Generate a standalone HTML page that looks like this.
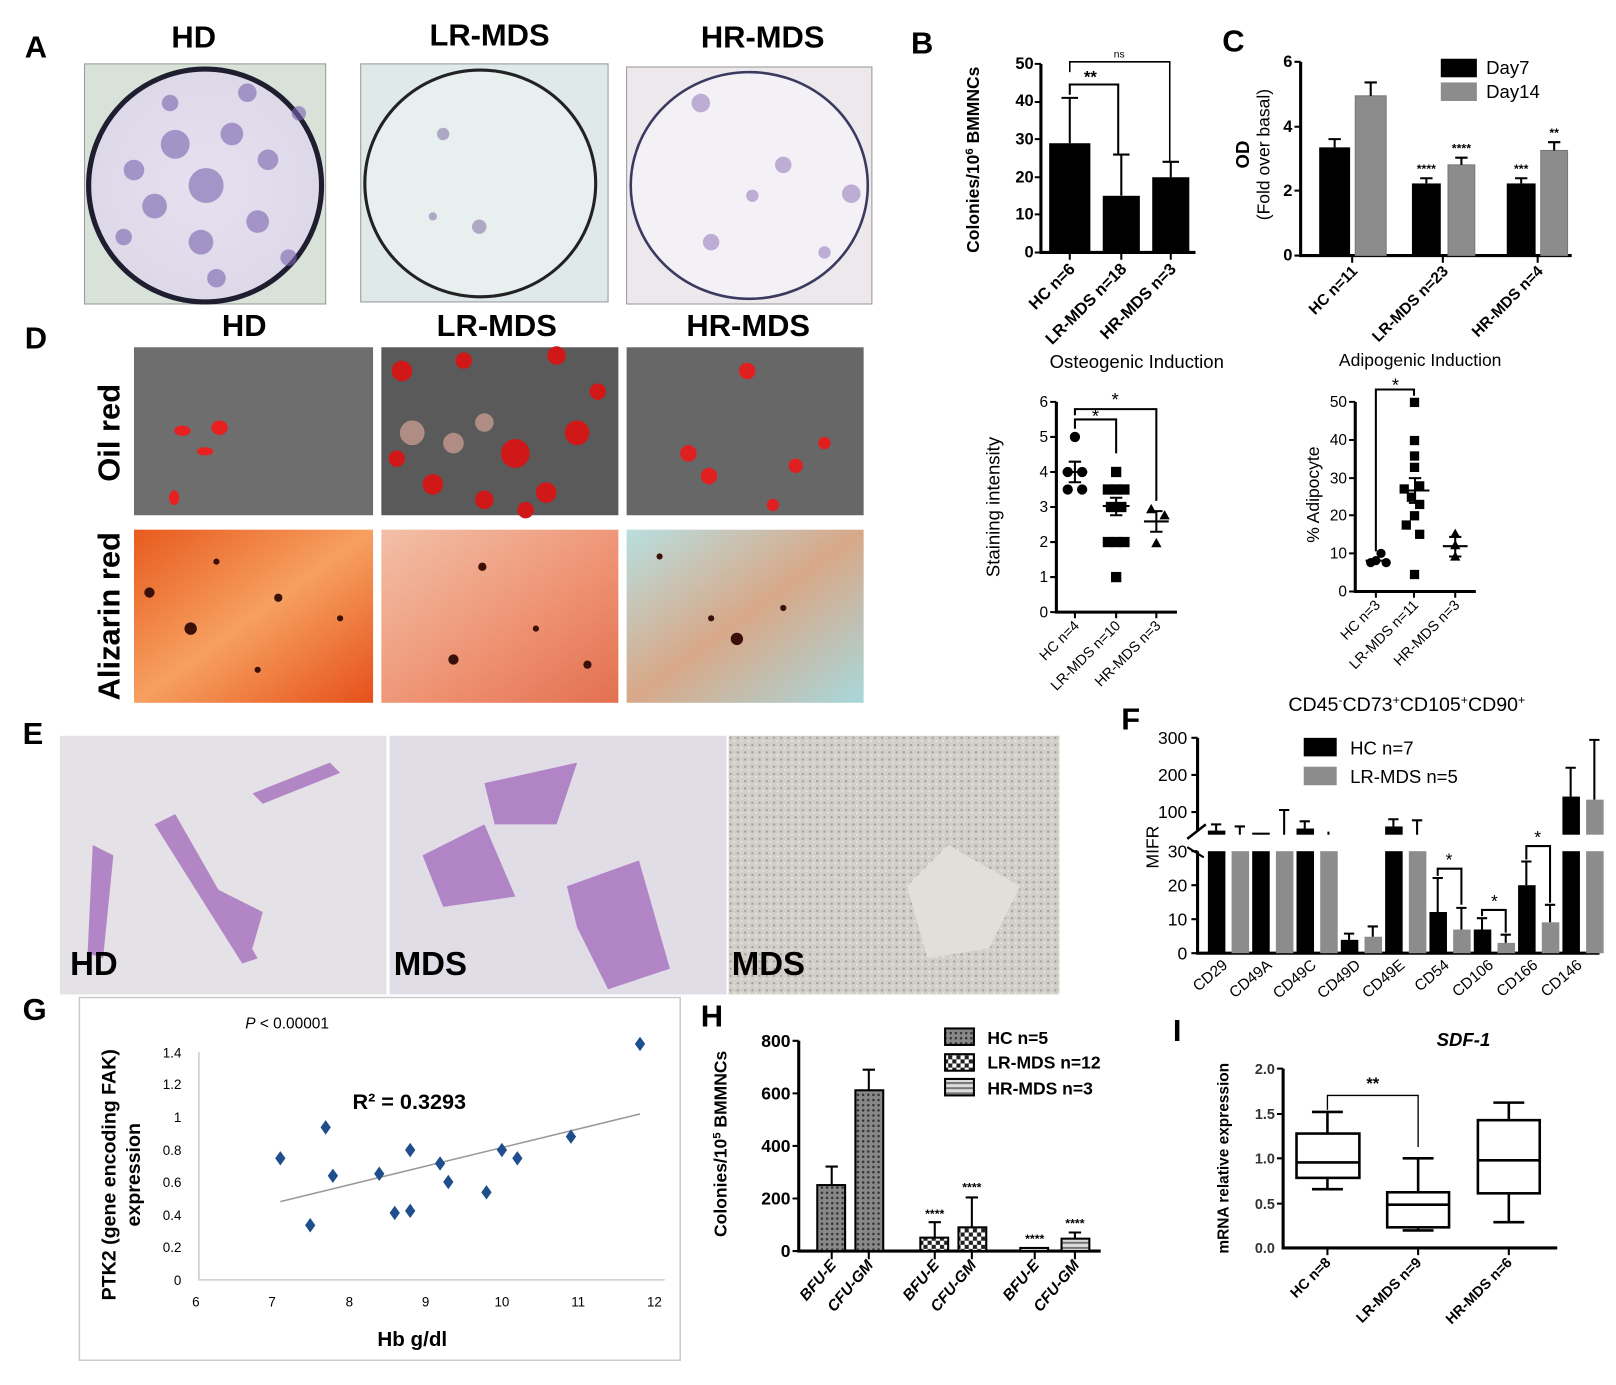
<!DOCTYPE html>
<html><head><meta charset="utf-8"><style>
html,body{margin:0;padding:0;background:#fff}
svg{display:block}
text{font-family:"Liberation Sans",Arial,sans-serif}
</style></head><body>
<svg width="1616" height="1385" viewBox="0 0 1568 1344" preserveAspectRatio="none" xmlns="http://www.w3.org/2000/svg">
<defs>
<radialGradient id="plA" cx="50%" cy="50%" r="55%"><stop offset="0" stop-color="#e6e0ef"/><stop offset="1" stop-color="#ddd8e8"/></radialGradient>
<linearGradient id="aliz1" x1="0" y1="0" x2="1" y2="1"><stop offset="0" stop-color="#e85a1e"/><stop offset=".5" stop-color="#f6a060"/><stop offset="1" stop-color="#e6501a"/></linearGradient>
<linearGradient id="aliz2" x1="0" y1="0" x2="1" y2="1"><stop offset="0" stop-color="#f2c0a8"/><stop offset=".6" stop-color="#ee9070"/><stop offset="1" stop-color="#e27050"/></linearGradient>
<linearGradient id="aliz3" x1="0" y1="0" x2="1" y2="1"><stop offset="0" stop-color="#b8dfe0"/><stop offset=".5" stop-color="#d8a888"/><stop offset="1" stop-color="#a8d8dc"/></linearGradient>
<pattern id="dots" width="5" height="5" patternUnits="userSpaceOnUse"><rect width="5" height="5" fill="#888"/><circle cx="2.5" cy="2.5" r="1.2" fill="#333"/></pattern>
<pattern id="check" width="8" height="8" patternUnits="userSpaceOnUse"><rect width="8" height="8" fill="#fff"/><rect width="4" height="4" fill="#222"/><rect x="4" y="4" width="4" height="4" fill="#222"/></pattern>
<pattern id="hstripe" width="6" height="5" patternUnits="userSpaceOnUse"><rect width="6" height="5" fill="#ddd"/><rect width="6" height="2" fill="#777"/></pattern>
<pattern id="tex" width="7" height="7" patternUnits="userSpaceOnUse"><rect width="7" height="7" fill="#d2cec8"/><circle cx="2" cy="2" r="1.1" fill="#a19c96"/><circle cx="5.5" cy="5" r="0.9" fill="#eeebe6"/></pattern>
</defs>

<!-- Panel letters -->
<g font-weight="bold" font-size="30" fill="#000">
<text x="24" y="56">A</text><text x="884" y="52">B</text><text x="1186" y="50">C</text>
<text x="24" y="338">D</text><text x="22" y="722">E</text><text x="1088" y="708">F</text>
<text x="22" y="990">G</text><text x="680" y="996">H</text><text x="1138" y="1010">I</text>
</g>

<!-- A -->
<g font-weight="bold" font-size="30" text-anchor="middle">
<text x="188" y="46">HD</text><text x="475" y="44">LR-MDS</text><text x="740" y="46">HR-MDS</text>
<text x="237" y="326">HD</text><text x="482" y="326">LR-MDS</text><text x="726" y="326">HR-MDS</text>
</g>
<rect x="82" y="62" width="234" height="233" fill="#d9e2d8" stroke="#999"/>
<ellipse cx="199" cy="180" rx="113" ry="113" fill="url(#plA)" stroke="#1e1e30" stroke-width="5"/>
<g fill="#7a64b0" opacity=".6">
<circle cx="170" cy="140" r="14"/><circle cx="200" cy="180" r="17"/><circle cx="225" cy="130" r="11"/><circle cx="150" cy="200" r="12"/><circle cx="250" cy="215" r="11"/><circle cx="195" cy="235" r="12"/><circle cx="260" cy="155" r="10"/><circle cx="130" cy="165" r="10"/><circle cx="210" cy="270" r="9"/><circle cx="240" cy="90" r="9"/><circle cx="120" cy="230" r="8"/><circle cx="280" cy="250" r="8"/><circle cx="165" cy="100" r="8"/><circle cx="290" cy="110" r="7"/>
</g>
<rect x="350" y="62" width="240" height="231" fill="#dfe9e9" stroke="#999"/>
<ellipse cx="466" cy="178" rx="112" ry="110" fill="#e8efef" stroke="#222" stroke-width="3"/>
<g fill="#8a7aa8" opacity=".6"><circle cx="430" cy="130" r="6"/><circle cx="465" cy="220" r="7"/><circle cx="420" cy="210" r="4"/></g>
<rect x="608" y="65" width="238" height="230" fill="#ece8ec" stroke="#999"/>
<ellipse cx="727" cy="180" rx="115" ry="110" fill="#f3f1f5" stroke="#3a3a60" stroke-width="2.5"/>
<g fill="#9a80c0" opacity=".6"><circle cx="680" cy="100" r="9"/><circle cx="760" cy="160" r="8"/><circle cx="826" cy="188" r="9"/><circle cx="690" cy="235" r="8"/><circle cx="730" cy="190" r="6"/><circle cx="800" cy="245" r="6"/></g>

<!-- D -->
<text transform="translate(116,420) rotate(-90)" font-weight="bold" font-size="30" text-anchor="middle">Oil red</text>
<text transform="translate(116,598) rotate(-90)" font-weight="bold" font-size="30" text-anchor="middle">Alizarin red</text>
<rect x="130" y="337" width="232" height="163" fill="#6e6e6e"/>
<g fill="#e82020"><ellipse cx="177" cy="418" rx="8" ry="5"/><ellipse cx="213" cy="415" rx="8" ry="7"/><ellipse cx="199" cy="438" rx="8" ry="4"/><ellipse cx="169" cy="483" rx="5" ry="7"/></g>
<rect x="370" y="337" width="230" height="163" fill="#5a5a5a"/>
<g fill="#d01818"><circle cx="390" cy="360" r="10"/><circle cx="450" cy="350" r="8"/><circle cx="540" cy="345" r="9"/><circle cx="500" cy="440" r="14"/><circle cx="560" cy="420" r="12"/><circle cx="580" cy="380" r="8"/><circle cx="420" cy="470" r="10"/><circle cx="470" cy="485" r="9"/><circle cx="530" cy="478" r="10"/><circle cx="385" cy="445" r="8"/><circle cx="510" cy="495" r="8"/></g>
<g fill="#e8b0a0" opacity=".6"><circle cx="400" cy="420" r="12"/><circle cx="440" cy="430" r="10"/><circle cx="470" cy="410" r="9"/></g>
<rect x="608" y="337" width="230" height="163" fill="#676767"/>
<g fill="#e02020"><circle cx="725" cy="360" r="8"/><circle cx="668" cy="440" r="8"/><circle cx="688" cy="462" r="8"/><circle cx="772" cy="452" r="7"/><circle cx="800" cy="430" r="6"/><circle cx="750" cy="490" r="6"/></g>
<rect x="130" y="514" width="232" height="168" fill="url(#aliz1)"/>
<rect x="370" y="514" width="230" height="168" fill="url(#aliz2)"/>
<rect x="608" y="514" width="230" height="168" fill="url(#aliz3)"/>
<g fill="#3a1008"><circle cx="145" cy="575" r="5"/><circle cx="185" cy="610" r="6"/><circle cx="210" cy="545" r="3"/><circle cx="270" cy="580" r="4"/><circle cx="330" cy="600" r="3"/><circle cx="250" cy="650" r="3"/><circle cx="440" cy="640" r="5"/><circle cx="468" cy="550" r="4"/><circle cx="520" cy="610" r="3"/><circle cx="570" cy="645" r="4"/><circle cx="715" cy="620" r="6"/><circle cx="690" cy="600" r="3"/><circle cx="760" cy="590" r="3"/><circle cx="640" cy="540" r="3"/></g>

<!-- E -->
<rect x="58" y="714" width="317" height="251" fill="#e4e2e6"/>
<rect x="378" y="714" width="327" height="251" fill="#e0dde6"/>
<rect x="707" y="714" width="321" height="251" fill="url(#tex)"/>
<g fill="#9d5fb8" opacity=".7">
<path d="M150 800 L170 790 L250 930 L235 935 Z"/><path d="M90 820 L110 830 L100 930 L85 925Z"/><path d="M245 770 L320 740 L330 750 L255 780Z"/><path d="M205 860 L255 885 L245 920 L215 900Z"/>
<path d="M470 760 L560 740 L540 800 L480 800Z"/><path d="M550 860 L620 835 L650 940 L590 960 L560 900Z"/><path d="M410 830 L470 800 L500 870 L430 880Z"/>
</g>
<path d="M880 860 L920 820 L990 860 L960 920 L900 930Z" fill="#e2ded8"/>
<g font-weight="bold" font-size="32"><text x="68" y="946">HD</text><text x="382" y="946">MDS</text><text x="710" y="946">MDS</text></g>

<!-- B -->
<g stroke="#000" stroke-width="3" fill="none"><path d="M1010 62 V245 H1160"/></g>
<g font-size="16" font-weight="bold" text-anchor="end">
<text x="1003" y="250">0</text><text x="1003" y="213">10</text><text x="1003" y="177">20</text><text x="1003" y="140">30</text><text x="1003" y="103">40</text><text x="1003" y="67">50</text></g>
<g stroke="#000" stroke-width="2"><path d="M1004 245H1010M1004 208H1010M1004 172H1010M1004 135H1010M1004 99H1010M1004 62H1010M1038 245V252M1088 245V252M1136 245V252"/></g>
<rect x="1018" y="139" width="40" height="106"/><rect x="1070" y="190" width="36" height="55"/><rect x="1118" y="172" width="36" height="73"/>
<g stroke="#000" stroke-width="2" fill="none"><path d="M1038 139V95M1030 95H1046M1088 190V150M1080 150H1096M1136 172V157M1128 157H1144"/>
<path d="M1038 92V82H1085V150"/><path d="M1038 70V60H1135V157" stroke-width="1.5"/></g>
<text x="1058" y="80" font-size="16" font-weight="bold" text-anchor="middle">**</text>
<text x="1086" y="56" font-size="10" text-anchor="middle">ns</text>
<text transform="translate(950,155) rotate(-90)" font-size="17" font-weight="bold" text-anchor="middle">Colonies/10<tspan font-size="11" dy="-6">6</tspan><tspan dy="6"> BMMNCs</tspan></text>
<g font-size="16" font-weight="bold" text-anchor="end">
<text transform="translate(1044,262) rotate(-45)">HC n=6</text>
<text transform="translate(1094,262) rotate(-45)">LR-MDS n=18</text>
<text transform="translate(1142,262) rotate(-45)">HR-MDS n=3</text></g>

<!-- C -->
<g stroke="#000" stroke-width="3" fill="none"><path d="M1262 60V248H1525"/></g>
<g stroke="#000" stroke-width="2"><path d="M1256 60H1262M1256 123H1262M1256 185H1262M1256 248H1262M1312 248V255M1400 248V255M1492 248V255"/></g>
<g font-size="16" font-weight="bold" text-anchor="end"><text x="1254" y="65">6</text><text x="1254" y="128">4</text><text x="1254" y="190">2</text><text x="1254" y="253">0</text></g>
<rect x="1280" y="143" width="30" height="105"/><rect x="1315" y="93" width="30" height="155" fill="#8c8c8c" stroke="#777"/>
<rect x="1370" y="178" width="28" height="70"/><rect x="1405" y="160" width="26" height="88" fill="#8c8c8c" stroke="#777"/>
<rect x="1462" y="178" width="28" height="70"/><rect x="1495" y="146" width="26" height="102" fill="#8c8c8c" stroke="#777"/>
<g stroke="#000" stroke-width="2"><path d="M1295 143V135M1289 135H1301M1330 93V80M1324 80H1336M1384 178V173M1378 173H1390M1418 160V153M1412 153H1424M1476 178V173M1470 173H1482M1508 146V138M1502 138H1514"/></g>
<g font-size="12" font-weight="bold" text-anchor="middle"><text x="1384" y="168">****</text><text x="1418" y="148">****</text><text x="1476" y="168">***</text><text x="1508" y="133">**</text></g>
<rect x="1398" y="57" width="35" height="18"/><rect x="1398" y="80" width="35" height="18" fill="#8c8c8c"/>
<g font-size="18"><text x="1442" y="72">Day7</text><text x="1442" y="95">Day14</text></g>
<text transform="translate(1212,150) rotate(-90)" font-size="18" font-weight="bold" text-anchor="middle">OD</text>
<text transform="translate(1232,150) rotate(-90)" font-size="17" text-anchor="middle">(Fold over basal)</text>
<g font-size="15" font-weight="bold" text-anchor="end">
<text transform="translate(1318,264) rotate(-45)">HC n=11</text>
<text transform="translate(1406,264) rotate(-45)">LR-MDS n=23</text>
<text transform="translate(1498,264) rotate(-45)">HR-MDS n=4</text></g>

<!-- Osteogenic -->
<text x="1103" y="357" font-size="18" text-anchor="middle">Osteogenic Induction</text>
<g stroke="#000" stroke-width="3" fill="none"><path d="M1025 390V594H1142"/></g>
<g stroke="#000" stroke-width="2"><path d="M1019 390H1025M1019 424H1025M1019 458H1025M1019 492H1025M1019 526H1025M1019 560H1025M1019 594H1025M1043 594V600M1083 594V600M1122 594V600"/></g>
<g font-size="15" text-anchor="end"><text x="1017" y="395">6</text><text x="1017" y="429">5</text><text x="1017" y="463">4</text><text x="1017" y="497">3</text><text x="1017" y="531">2</text><text x="1017" y="565">1</text><text x="1017" y="599">0</text></g>
<g fill="#000"><circle cx="1043" cy="424" r="5"/><circle cx="1036" cy="458" r="5"/><circle cx="1050" cy="458" r="5"/><circle cx="1036" cy="475" r="5"/><circle cx="1050" cy="475" r="5"/>
<rect x="1078" y="453" width="10" height="10"/><rect x="1070" y="470" width="10" height="10"/><rect x="1078" y="470" width="10" height="10"/><rect x="1086" y="470" width="10" height="10"/><rect x="1073" y="487" width="10" height="10"/><rect x="1083" y="487" width="10" height="10"/><rect x="1070" y="521" width="10" height="10"/><rect x="1078" y="521" width="10" height="10"/><rect x="1086" y="521" width="10" height="10"/><rect x="1078" y="555" width="10" height="10"/>
<path d="M1112 498l5-9 5 9z"/><path d="M1125 504l5-9 5 9z"/><path d="M1117 531l5-9 5 9z"/></g>
<g stroke="#000" stroke-width="2" fill="none"><path d="M1031 458H1055M1043 448V468M1037 448H1049M1037 468H1049M1070 491H1096M1083 483V500M1077 483H1089M1077 500H1089M1110 506H1134M1122 496V516M1116 496H1128M1116 516H1128"/>
<path d="M1043 416V407H1083V440"/><path d="M1043 403V397H1122V486"/></g>
<g font-size="18" text-anchor="middle"><text x="1063" y="410">*</text><text x="1082" y="394">*</text></g>
<text transform="translate(970,492) rotate(-90)" font-size="18" text-anchor="middle">Staining intensity</text>
<g font-size="14" text-anchor="end">
<text transform="translate(1048,608) rotate(-45)">HC n=4</text>
<text transform="translate(1088,608) rotate(-45)">LR-MDS n=10</text>
<text transform="translate(1127,608) rotate(-45)">HR-MDS n=3</text></g>

<!-- Adipogenic -->
<text x="1378" y="355" font-size="17" text-anchor="middle">Adipogenic Induction</text>
<g stroke="#000" stroke-width="3" fill="none"><path d="M1315 390V574H1432"/></g>
<g stroke="#000" stroke-width="2"><path d="M1309 390H1315M1309 427H1315M1309 464H1315M1309 500H1315M1309 537H1315M1309 574H1315M1335 574V580M1372 574V580M1412 574V580"/></g>
<g font-size="15" text-anchor="end"><text x="1307" y="395">50</text><text x="1307" y="432">40</text><text x="1307" y="469">30</text><text x="1307" y="505">20</text><text x="1307" y="542">10</text><text x="1307" y="579">0</text></g>
<g fill="#000"><circle cx="1340" cy="537" r="4.5"/><circle cx="1330" cy="546" r="4.5"/><circle cx="1345" cy="546" r="4.5"/><circle cx="1335" cy="544" r="4.5"/>
<rect x="1368" y="386" width="9" height="9"/><rect x="1368" y="423" width="9" height="9"/><rect x="1368" y="438" width="9" height="9"/><rect x="1368" y="449" width="9" height="9"/><rect x="1373" y="467" width="9" height="9"/><rect x="1358" y="470" width="9" height="9"/><rect x="1365" y="478" width="9" height="9"/><rect x="1373" y="485" width="9" height="9"/><rect x="1368" y="496" width="9" height="9"/><rect x="1360" y="505" width="9" height="9"/><rect x="1373" y="514" width="9" height="9"/><rect x="1368" y="553" width="9" height="9"/>
<path d="M1407 522l5-9 5 9z"/><path d="M1407 533l5-9 5 9z"/><path d="M1407 544l5-9 5 9z"/></g>
<g stroke="#000" stroke-width="2" fill="none"><path d="M1325 544H1347M1359 476H1387M1373 464V488M1367 464H1379M1367 488H1379M1400 530H1424M1412 521V540M1406 521H1418M1406 540H1418"/><path d="M1335 535V378H1372V384"/></g>
<text x="1354" y="380" font-size="18" text-anchor="middle">*</text>
<text transform="translate(1280,480) rotate(-90)" font-size="17" text-anchor="middle">% Adipocyte</text>
<g font-size="14" text-anchor="end">
<text transform="translate(1340,588) rotate(-45)">HC n=3</text>
<text transform="translate(1377,588) rotate(-45)">LR-MDS n=11</text>
<text transform="translate(1417,588) rotate(-45)">HR-MDS n=3</text></g>

<!-- F -->
<text x="1365" y="690" font-size="19" text-anchor="middle">CD45<tspan font-size="12" dy="-7">-</tspan><tspan dy="7">CD73</tspan><tspan font-size="12" dy="-7">+</tspan><tspan dy="7">CD105</tspan><tspan font-size="12" dy="-7">+</tspan><tspan dy="7">CD90</tspan><tspan font-size="12" dy="-7">+</tspan></text>
<g stroke="#000" stroke-width="3" fill="none"><path d="M1162 716V806"/><path d="M1162 826V925H1552"/><path d="M1152 814L1170 800" stroke-width="2.5"/><path d="M1152 822L1168 832" stroke-width="2"/></g>
<g stroke="#000" stroke-width="2"><path d="M1156 716H1162M1156 752H1162M1156 788H1162M1156 826H1162M1156 859H1162M1156 892H1162M1156 925H1162"/></g>
<g font-size="17" text-anchor="end"><text x="1152" y="722">300</text><text x="1152" y="758">200</text><text x="1152" y="794">100</text><text x="1152" y="832">30</text><text x="1152" y="865">20</text><text x="1152" y="898">10</text><text x="1152" y="931">0</text></g>
<text transform="translate(1124,822) rotate(-90)" font-size="17" text-anchor="middle">MIFR</text>
<g>
<rect x="1172" y="826" width="17" height="99"/><rect x="1195" y="826" width="17" height="99" fill="#8c8c8c"/>
<rect x="1215" y="826" width="17" height="99"/><rect x="1238" y="826" width="17" height="99" fill="#8c8c8c"/>
<rect x="1258" y="826" width="17" height="99"/><rect x="1281" y="826" width="17" height="99" fill="#8c8c8c"/>
<rect x="1301" y="912" width="17" height="13"/><rect x="1324" y="909" width="17" height="16" fill="#8c8c8c"/>
<rect x="1344" y="826" width="17" height="99"/><rect x="1367" y="826" width="17" height="99" fill="#8c8c8c"/>
<rect x="1387" y="885" width="17" height="40"/><rect x="1410" y="902" width="17" height="23" fill="#8c8c8c"/>
<rect x="1430" y="902" width="17" height="23"/><rect x="1453" y="915" width="17" height="10" fill="#8c8c8c"/>
<rect x="1473" y="859" width="17" height="66"/><rect x="1496" y="895" width="17" height="30" fill="#8c8c8c"/>
<rect x="1516" y="826" width="17" height="99"/><rect x="1539" y="826" width="17" height="99" fill="#8c8c8c"/>
<rect x="1172" y="806" width="17" height="4"/><rect x="1215" y="808" width="17" height="2"/><rect x="1258" y="804" width="17" height="6"/><rect x="1344" y="802" width="17" height="8"/>
<rect x="1516" y="773" width="17" height="37"/><rect x="1539" y="776" width="17" height="34" fill="#8c8c8c"/>
</g>
<g stroke="#000" stroke-width="2" fill="none">
<path d="M1180 806V800M1175 800H1185M1203 810V802M1198 802H1208M1246 810V786M1241 786H1251M1266 804V797M1261 797H1271M1289 810V807M1309 912V906M1304 906H1314M1332 909V899M1327 899H1337M1352 802V795M1347 795H1357M1375 810V796M1370 796H1380M1395 885V852M1390 852H1400M1418 902V881M1413 881H1423M1438 902V891M1433 891H1443M1461 915V907M1456 907H1466M1481 859V836M1476 836H1486M1504 895V878M1499 878H1509M1524 773V745M1519 745H1529M1547 776V718M1542 718H1552"/>
<path d="M1395 850V843H1418V878"/><path d="M1438 889V883H1461V905"/><path d="M1481 834V821H1504V876"/></g>
<g font-size="17" text-anchor="middle"><text x="1406" y="840">*</text><text x="1450" y="880">*</text><text x="1492" y="818">*</text></g>
<rect x="1265" y="716" width="32" height="18"/><rect x="1265" y="744" width="32" height="18" fill="#8c8c8c"/>
<g font-size="18"><text x="1310" y="732">HC n=7</text><text x="1310" y="760">LR-MDS n=5</text></g>
<g font-size="15" text-anchor="end">
<text transform="translate(1192,938) rotate(-40)">CD29</text><text transform="translate(1235,938) rotate(-40)">CD49A</text><text transform="translate(1278,938) rotate(-40)">CD49C</text><text transform="translate(1321,938) rotate(-40)">CD49D</text><text transform="translate(1364,938) rotate(-40)">CD49E</text><text transform="translate(1407,938) rotate(-40)">CD54</text><text transform="translate(1450,938) rotate(-40)">CD106</text><text transform="translate(1493,938) rotate(-40)">CD166</text><text transform="translate(1536,938) rotate(-40)">CD146</text></g>

<!-- G -->
<rect x="77" y="968" width="583" height="352" fill="none" stroke="#ccc" stroke-width="1.5"/>
<text x="238" y="998" font-size="15"><tspan font-style="italic">P</tspan> &lt; 0.00001</text>
<path d="M193 1021V1242H645" stroke="#ccc" stroke-width="1.5" fill="none"/>
<g font-size="13" font-family="Liberation Serif" text-anchor="end">
<text x="176" y="1247">0</text><text x="176" y="1215">0.2</text><text x="176" y="1184">0.4</text><text x="176" y="1152">0.6</text><text x="176" y="1121">0.8</text><text x="176" y="1089">1</text><text x="176" y="1057">1.2</text><text x="176" y="1026">1.4</text></g>
<g font-size="13" font-family="Liberation Serif" text-anchor="middle">
<text x="190" y="1268">6</text><text x="264" y="1268">7</text><text x="339" y="1268">8</text><text x="413" y="1268">9</text><text x="487" y="1268">10</text><text x="561" y="1268">11</text><text x="635" y="1268">12</text></g>
<text x="400" y="1306" font-size="20" font-weight="bold" text-anchor="middle">Hb g/dl</text>
<text transform="translate(112,1140) rotate(-90)" font-size="19" font-weight="bold" text-anchor="middle">PTK2 (gene encoding FAK)</text>
<text transform="translate(136,1140) rotate(-90)" font-size="19" font-weight="bold" text-anchor="middle">expression</text>
<text x="342" y="1076" font-size="21" font-weight="bold">R² = 0.3293</text>
<line x1="272" y1="1166" x2="621" y2="1081" stroke="#999" stroke-width="1.5"/>
<g fill="#1f4e8c">
<path d="M272 1117l5 7-5 7-5-7z"/><path d="M301 1182l5 7-5 7-5-7z"/><path d="M316 1087l5 7-5 7-5-7z"/><path d="M323 1134l5 7-5 7-5-7z"/><path d="M368 1132l5 7-5 7-5-7z"/><path d="M383 1170l5 7-5 7-5-7z"/><path d="M398 1168l5 7-5 7-5-7z"/><path d="M398 1109l5 7-5 7-5-7z"/><path d="M427 1122l5 7-5 7-5-7z"/><path d="M435 1140l5 7-5 7-5-7z"/><path d="M472 1150l5 7-5 7-5-7z"/><path d="M487 1109l5 7-5 7-5-7z"/><path d="M502 1117l5 7-5 7-5-7z"/><path d="M554 1096l5 7-5 7-5-7z"/><path d="M621 1006l5 7-5 7-5-7z"/></g>

<!-- H -->
<g stroke="#000" stroke-width="3" fill="none"><path d="M775 1010V1214H1068"/></g>
<g stroke="#000" stroke-width="2"><path d="M769 1010H775M769 1061H775M769 1112H775M769 1163H775M769 1214H775M807 1214V1222M843 1214V1222M907 1214V1222M943 1214V1222M1004 1214V1222M1043 1214V1222"/></g>
<g font-size="17" font-weight="bold" text-anchor="end"><text x="767" y="1016">800</text><text x="767" y="1067">600</text><text x="767" y="1118">400</text><text x="767" y="1169">200</text><text x="767" y="1220">0</text></g>
<text transform="translate(705,1110) rotate(-90)" font-size="17" font-weight="bold" text-anchor="middle">Colonies/10<tspan font-size="11" dy="-6">5</tspan><tspan dy="6"> BMMNCs</tspan></text>
<g stroke="#000" stroke-width="2">
<rect x="793" y="1150" width="27" height="64" fill="url(#dots)"/><rect x="830" y="1058" width="27" height="156" fill="url(#dots)"/>
<rect x="893" y="1201" width="27" height="13" fill="url(#check)"/><rect x="930" y="1191" width="27" height="23" fill="url(#check)"/>
<rect x="990" y="1211" width="27" height="3" fill="url(#hstripe)"/><rect x="1030" y="1202" width="27" height="12" fill="url(#hstripe)"/>
<path d="M807 1150V1132M801 1132H813M843 1058V1038M837 1038H849M907 1201V1186M901 1186H913M943 1191V1162M937 1162H949M1043 1202V1196M1037 1196H1049"/></g>
<g font-size="12" font-weight="bold" text-anchor="middle"><text x="907" y="1182">****</text><text x="943" y="1156">****</text><text x="1004" y="1206">****</text><text x="1043" y="1191">****</text></g>
<g stroke="#000" stroke-width="2"><rect x="917" y="998" width="28" height="16" fill="url(#dots)"/><rect x="917" y="1023" width="28" height="16" fill="url(#check)"/><rect x="917" y="1047" width="28" height="16" fill="url(#hstripe)"/></g>
<g font-size="17" font-weight="bold"><text x="958" y="1013">HC n=5</text><text x="958" y="1037">LR-MDS  n=12</text><text x="958" y="1062">HR-MDS n=3</text></g>
<g font-size="15" font-weight="bold" font-style="italic" text-anchor="end">
<text transform="translate(812,1228) rotate(-50)">BFU-E</text><text transform="translate(848,1228) rotate(-50)">CFU-GM</text>
<text transform="translate(912,1228) rotate(-50)">BFU-E</text><text transform="translate(948,1228) rotate(-50)">CFU-GM</text>
<text transform="translate(1009,1228) rotate(-50)">BFU-E</text><text transform="translate(1048,1228) rotate(-50)">CFU-GM</text></g>

<!-- I -->
<text x="1420" y="1015" font-size="18" font-weight="bold" font-style="italic" text-anchor="middle">SDF-1</text>
<g stroke="#000" stroke-width="3" fill="none"><path d="M1245 1037V1211H1511"/></g>
<g stroke="#000" stroke-width="2"><path d="M1239 1037H1245M1239 1081H1245M1239 1124H1245M1239 1168H1245M1288 1211V1218M1376 1211V1218M1464 1211V1218"/></g>
<g font-size="14" font-weight="bold" fill="#333" text-anchor="end"><text x="1237" y="1042">2.0</text><text x="1237" y="1086">1.5</text><text x="1237" y="1129">1.0</text><text x="1237" y="1173">0.5</text><text x="1237" y="1216">0.0</text></g>
<g stroke="#000" stroke-width="2.5" fill="none">
<rect x="1258" y="1100" width="61" height="43"/><path d="M1258 1128H1319M1288 1100V1079M1273 1079H1303M1288 1143V1154M1273 1154H1303"/>
<rect x="1346" y="1157" width="60" height="34"/><path d="M1346 1169H1406M1376 1157V1124M1361 1124H1391M1376 1191V1194M1361 1194H1391"/>
<rect x="1434" y="1087" width="60" height="71"/><path d="M1434 1126H1494M1464 1087V1070M1449 1070H1479M1464 1158V1186M1449 1186H1479"/>
<path d="M1288 1077V1063H1376V1113" stroke-width="1.3"/></g>
<text x="1332" y="1057" font-size="16" font-weight="bold" text-anchor="middle">**</text>
<text transform="translate(1192,1124) rotate(-90)" font-size="15" font-weight="bold" text-anchor="middle">mRNA relative expression</text>
<g font-size="14" font-weight="bold" text-anchor="end">
<text transform="translate(1292,1226) rotate(-45)">HC n=8</text>
<text transform="translate(1380,1226) rotate(-45)">LR-MDS n=9</text>
<text transform="translate(1468,1226) rotate(-45)">HR-MDS n=6</text></g>
</svg>
</body></html>
